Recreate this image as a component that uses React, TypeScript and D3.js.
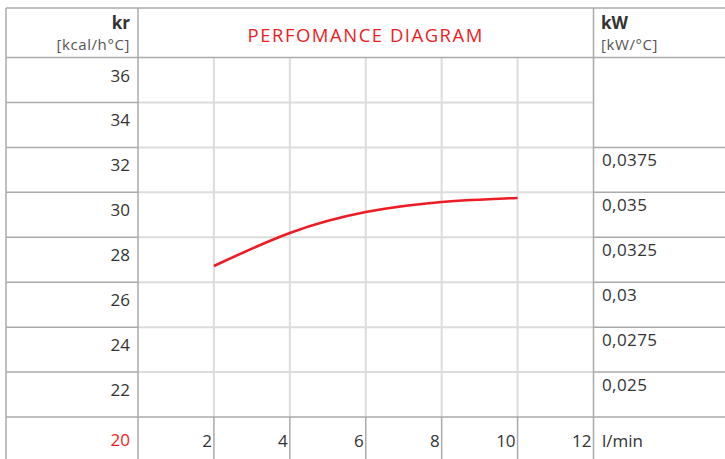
import React from 'react';
import * as d3 from 'd3';

// flow rate (l/min) vs kr
const flow = [2, 4, 6, 8, 10];
const kr = [26.72, 28.19, 29.12, 29.57, 29.75];

const xTicks = [2, 4, 6, 8, 10, 12];
const krTicks = [36, 34, 32, 30, 28, 26, 24, 22];
const kwTicks = [32, 30, 28, 26, 24, 22];
const kwLabels = ['0,0375', '0,035', '0,0325', '0,03', '0,0275', '0,025'];

const W = 725;
const H = 459;
const RED = '#ed1c24';
const DARK = '#aaaaaa';
const LIGHT = '#dcdcdc';
const TXT = '#333333';
const FONT = "'Open Sans', Lato, sans-serif";

export default function App() {
  const x = d3.scaleLinear().domain([0, 12]).range([138, 593.5]);
  const y = d3.scaleLinear().domain([20, 36]).range([417, 57.5]);
  const left = 6;
  const top = 8;

  const line = d3
    .line<number>()
    .x((_, i) => x(flow[i]))
    .y((d) => y(d))
    .curve(d3.curveNatural);

  const innerRows = krTicks.filter((v) => v !== 36);
  const innerCols = xTicks.filter((v) => v !== 12);

  return (
    <svg
      width={W}
      height={H}
      style={{ position: 'absolute', left: 0, top: 0, background: '#fff' }}
      fontFamily={FONT}
    >
      {/* light inner grid */}
      {innerCols.map((v) => (
        <line key={'vc' + v} x1={x(v)} x2={x(v)} y1={y(36)} y2={y(20)} stroke={LIGHT} strokeWidth={2} />
      ))}
      {innerRows.map((v) => (
        <line key={'hr' + v} x1={x(0)} x2={x(12)} y1={y(v)} y2={y(v)} stroke={LIGHT} strokeWidth={2} />
      ))}

      {/* table structure */}
      <g stroke={DARK} strokeWidth={1.5}>
        <line x1={left} x2={W} y1={top} y2={top} />
        <line x1={left} x2={left} y1={top} y2={H} />
        <line x1={x(0)} x2={x(0)} y1={top} y2={H} />
        <line x1={x(12)} x2={x(12)} y1={top} y2={H} />
        <line x1={left} x2={W} y1={y(36)} y2={y(36)} />
        <line x1={left} x2={W} y1={y(20)} y2={y(20)} />
        {innerRows.map((v) => (
          <line key={'lr' + v} x1={left} x2={x(0)} y1={y(v)} y2={y(v)} />
        ))}
        {kwTicks.map((v) => (
          <line key={'rr' + v} x1={x(12)} x2={W} y1={y(v)} y2={y(v)} />
        ))}
        {innerCols.map((v) => (
          <line key={'bc' + v} x1={x(v)} x2={x(v)} y1={y(20)} y2={H} />
        ))}
      </g>

      {/* curve */}
      <path d={line(kr) || ''} fill="none" stroke={RED} strokeWidth={2.6} />

      {/* header */}
      <text x={130} y={29} textAnchor="end" fontSize={17} fontWeight="bold" fill={TXT}>kr</text>
      <text x={130} y={50} textAnchor="end" fontSize={15} letterSpacing={0.6} fill="#555">[kcal/h°C]</text>
      <text x={(x(0) + x(12)) / 2} y={41.5} textAnchor="middle" fontSize={18.5} letterSpacing={1.5} fill={RED}>
        PERFOMANCE DIAGRAM
      </text>
      <text x={601} y={29} fontSize={17} fontWeight="bold" fill={TXT}>kW</text>
      <text x={601} y={50} fontSize={15} letterSpacing={0.6} fill="#555">[kW/°C]</text>

      {/* kr labels */}
      {krTicks.map((v) => (
        <text key={'kl' + v} x={130} y={y(v) + 24} textAnchor="end" fontSize={17} fill={TXT}>
          {v}
        </text>
      ))}
      <text x={130} y={y(20) + 29} textAnchor="end" fontSize={17} fill={RED}>20</text>

      {/* kW labels */}
      {kwTicks.map((v, i) => (
        <text key={'wl' + v} x={602} y={y(v) + 19} fontSize={17} letterSpacing={0.4} fill={TXT}>
          {kwLabels[i]}
        </text>
      ))}

      {/* flow labels */}
      {xTicks.map((v) => (
        <text key={'xl' + v} x={x(v) - 2} y={y(20) + 30} textAnchor="end" fontSize={17} fill={TXT}>
          {v}
        </text>
      ))}
      <text x={602} y={y(20) + 30} fontSize={17} fill={TXT}>l/min</text>
    </svg>
  );
}
